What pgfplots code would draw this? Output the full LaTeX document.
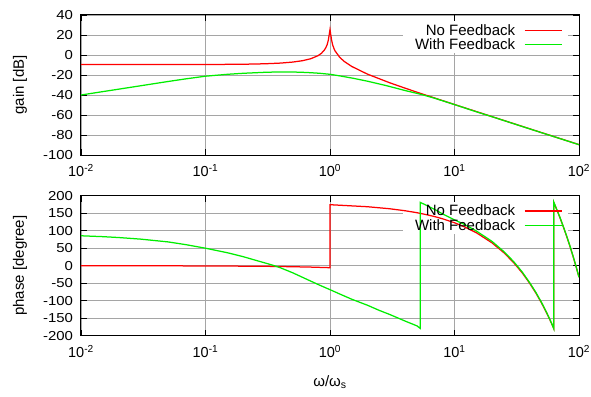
\documentclass[border=0pt]{standalone}
\usepackage{fontspec}
\setmainfont{Liberation Sans}
\newfontfamily\stretchfont{Liberation Sans}[FakeStretch=1.15]
\usepackage{pgfplots}
\pgfplotsset{compat=1.18}
\definecolor{gridgray}{RGB}{165,165,165}
\definecolor{lred}{RGB}{255,0,0}
\definecolor{lgreen}{RGB}{0,238,0}
\pgfplotsset{
  every axis/.append style={
    scale only axis, width=498pt, height=140pt,
    xmin=0.01, xmax=100,
    xminorticks=false, yminorticks=false,
    grid=major, major grid style={gridgray, line width=0.8pt},
    axis line style={black, line width=1pt},
    tick style={black, line width=0.8pt},
    major tick length=6pt,
    tick align=inside, tick pos=both,
    xticklabel style={font=\fontsize{14.5}{17}\selectfont, anchor=base, yshift=-21.7pt},
    yticklabel style={font=\stretchfont\fontsize{13}{15}\selectfont, xshift=-4.5pt},
    label style={font=\fontsize{15}{18}\selectfont},
    ylabel style={at={(axis description cs:-0.1225,0.5)}, anchor=center},
    legend style={draw=none, fill=none, at={(rel axis cs:0.968,0.95)}, anchor=north east,
      font=\fontsize{15}{18}\selectfont, inner sep=0pt, row sep=-2pt},
    legend cell align=right, legend plot pos=right,
  }
}
\begin{document}
\begin{tikzpicture}
\useasboundingbox (0pt,0pt) rectangle (591pt,-396pt);
\begin{semilogxaxis}[at={(81pt,-15pt)}, anchor=north west,
  xtick={0.01,0.1,1,10,100},
  xticklabels={10\textsuperscript{-2},10\textsuperscript{-1},10\textsuperscript{0},10\textsuperscript{1},10\textsuperscript{2}},
  legend image code/.code={\path (0pt,0pt); \draw[#1] (7pt,0pt) -- (44.5pt,0pt);},
  ymin=-100, ymax=40, ytick={-100,-80,-60,-40,-20,0,20,40},
  yticklabels={-100,-80,-60,-40,-20,0,20,40},
  ylabel={gain [dB]}]
\fill[white] (rel axis cs:0.6466,0.73) rectangle (rel axis cs:0.978,0.955);
\addplot[lred, line width=1.25pt] table {
0.01 -9.6
0.1 -9.51
0.2 -9.25
0.3 -8.78
0.4 -8.09
0.5 -7.1
0.6 -5.72
0.7 -3.75
0.8 -0.73
0.85 1.53
0.9 4.82
0.93 7.79
0.95 10.62
0.97 14.97
0.98 18.45
0.99 21.9
1.0 25.4
1.01 21.7
1.02 18.3
1.03 14.8
1.05 10.2
1.08 5.98
1.1 3.96
1.2 -2.47
1.3 -6.38
1.5 -11.54
2 -19.14
3 -27.66
4 -33.12
5 -37.2
7 -43.2
10 -49.5
20 -61.6
50 -77.6
100 -89.6
};
\addlegendentry{No Feedback}
\addplot[lgreen, line width=1.25pt] table {
0.01 -40
0.015 -36.6
0.02 -34.2
0.03 -30.8
0.05 -26.5
0.07 -23.8
0.1 -21.2
0.15 -19.3
0.2 -18.3
0.3 -17.3
0.4 -16.9
0.5 -17.0
0.6 -17.3
0.7 -17.7
0.83 -18.3
1 -19.3
1.2 -20.9
1.54 -23.3
2 -26.2
2.85 -30.7
4 -35.5
5.28 -39.1
6 -41.0
7 -43.4
10 -49.6
15 -56.8
20 -61.7
30 -68.8
50 -77.7
70 -83.5
100 -89.7
};
\addlegendentry{With Feedback}
\end{semilogxaxis}
\begin{semilogxaxis}[at={(81pt,-195.7pt)}, anchor=north west,
  xtick={0.01,0.1,1,10,100},
  xticklabels={10\textsuperscript{-2},10\textsuperscript{-1},10\textsuperscript{0},10\textsuperscript{1},10\textsuperscript{2}},
  legend image code/.code={\path (0pt,0pt); \draw[#1] (7pt,0pt) -- (44.5pt,0pt);},
  ymin=-200, ymax=200, ytick={-200,-150,-100,-50,0,50,100,150,200},
  yticklabels={-200,-150,-100,-50,0,50,100,150,200},
  ylabel={phase [degree]}, xlabel={ω/ω\textsubscript{s}},
  xlabel style={at={(axis description cs:0.5,-0.3286)}, anchor=center}]
\fill[white] (rel axis cs:0.6466,0.73) rectangle (rel axis cs:0.978,0.955);
\addplot[lred, line width=1.25pt] table {
0.01 0
0.1 -0.6
0.3 -1.7
0.5 -2.9
0.7 -4
1 -5.7
1 174.3
2 168.5
3 162.8
4 157.1
5 151.4
6 145.6
7 139.9
8 134.2
10 122.7
12 111.2
15 94.1
20 65.4
25 36.8
30 8.1
35 -20.5
40 -49.2
45 -77.8
50 -106.5
55 -135.1
60 -163.8
62.8 -180
62.8 180
65 167.5
70 139
75 110.3
80 81.6
85 53
90 24.3
95 -4.3
100 -33
};
\addlegendentry{No Feedback}
\addplot[lgreen, line width=1.25pt] table {
0.01 85.5
0.015 83
0.02 80.5
0.03 76
0.05 68
0.07 60
0.1 50
0.15 37
0.2 26
0.25 16
0.3 8
0.35 1
0.4 -6
0.5 -20
0.6 -33
0.7 -44
0.83 -56
1 -68.5
1.2 -81
1.5 -96
2 -113
2.5 -128
3 -139
4 -158
5 -172
5.3 -179
5.3 181
6 172
7 160
8 148
9 139
10 131
12 118
15 99
20 69.5
25 40
30 11
35 -18
40 -47.5
45 -76
50 -105
55 -134
60 -163
62.7 -180
62.7 182
65 168
70 140
75 111
80 82.5
85 54
90 25
95 -3.5
100 -33
};
\addlegendentry{With Feedback}
\end{semilogxaxis}
\end{tikzpicture}
\end{document}
